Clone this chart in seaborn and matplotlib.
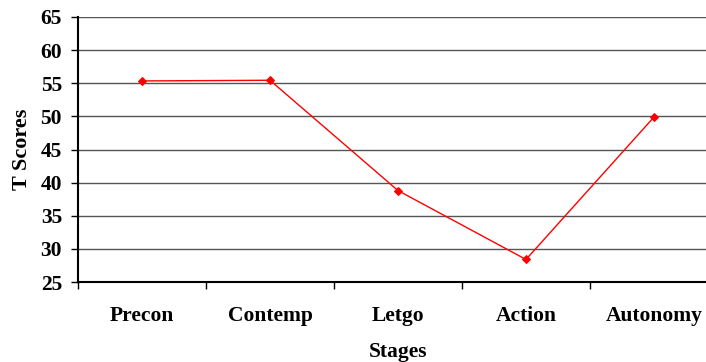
import matplotlib
matplotlib.use("Agg")
import pandas as pd
import seaborn as sns
import matplotlib.pyplot as plt
from matplotlib.ticker import FixedLocator

stages = ["Precon", "Contemp", "Letgo", "Action", "Autonomy"]
t_scores = [55.35, 55.45, 38.8, 28.4, 49.9]

sns.set_theme(style="white")
plt.rcParams['font.family'] = ['Liberation Serif', 'DejaVu Serif']
plt.rcParams['font.weight'] = 'bold'
plt.rcParams['text.color'] = 'black'
plt.rcParams['axes.labelcolor'] = 'black'
plt.rcParams['xtick.color'] = 'black'
plt.rcParams['ytick.color'] = 'black'

df = pd.DataFrame({"Stages": stages, "T Scores": t_scores})

fig = plt.figure(figsize=(7.06, 3.62), dpi=100)
ax = fig.add_axes([78 / 706, 1 - 282 / 362, 640 / 706, 265 / 362])

sns.lineplot(data=df, x="Stages", y="T Scores", ax=ax, color="red",
             linewidth=1, marker="D", markersize=4, markeredgecolor="red", sort=False)

ax.set_ylim(25, 65)
ax.set_yticks(range(25, 66, 5))
ax.set_xlim(-0.5, 4.5)
ax.grid(axis="y", color="#555555", linewidth=1)
ax.set_axisbelow(True)

# category boundaries carry the tick marks, centres carry the labels
ax.xaxis.set_minor_locator(FixedLocator([i - 0.5 for i in range(6)]))
ax.tick_params(axis="x", which="major", length=0, pad=17, labelsize=15.5)
ax.tick_params(axis="x", which="minor", length=5, width=1, direction="out")
ax.tick_params(axis="y", length=5, width=1, direction="out", pad=6.5, labelsize=15.5)
ax.tick_params(bottom=True, left=True, which="both")

for s in ["top", "right"]:
    ax.spines[s].set_visible(False)
for s in ["left", "bottom"]:
    ax.spines[s].set_color("black")
    ax.spines[s].set_linewidth(1.5)

ax.set_xlabel("Stages", fontsize=15.5, fontweight="bold", labelpad=12)
ax.set_ylabel("T Scores", fontsize=16, fontweight="bold", labelpad=6)

fig.savefig("out.png", dpi=100)
